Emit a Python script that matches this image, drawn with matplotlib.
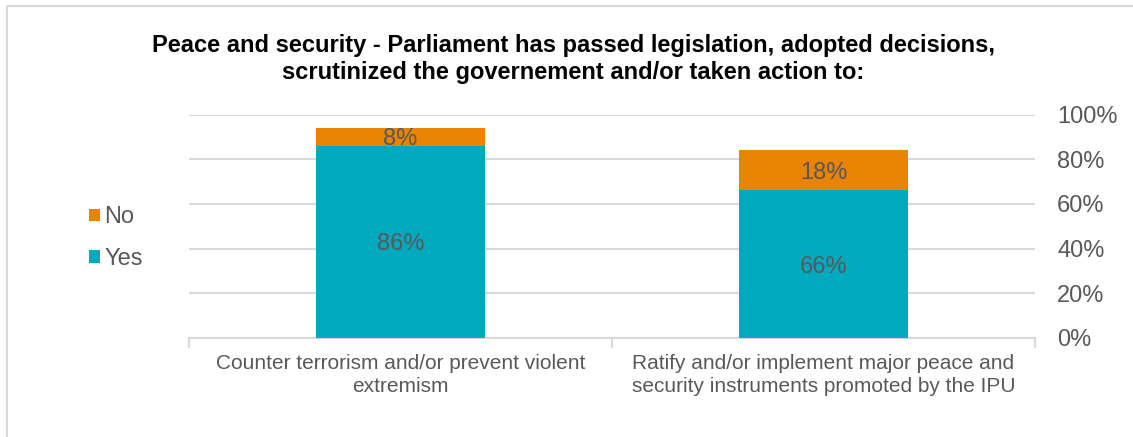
import matplotlib
matplotlib.use("Agg")
import matplotlib.pyplot as plt
import matplotlib.patches as patches
import numpy as np

plt.rcParams['font.family'] = ['Liberation Sans', 'DejaVu Sans']

categories = ["Counter terrorism and/or prevent violent\nextremism",
              "Ratify and/or implement major peace and\nsecurity instruments promoted by the IPU"]
yes_vals = [86, 66]
no_vals = [8, 18]
yticks = [0, 20, 40, 60, 80, 100]

TEAL = '#00A9BE'
ORANGE = '#E98300'
GRID = '#D9D9D9'
TXT = '#595959'

fig = plt.figure(figsize=(11.33, 4.37), dpi=100)
ax = fig.add_axes([189 / 1133, 1 - 338 / 437, 846 / 1133, 223.5 / 437])

# outer frame
fig.patches.append(patches.Rectangle((7 / 1133, -0.1), 1.2, 1 - 6 / 437 + 0.1,
                                     transform=fig.transFigure, fill=False,
                                     edgecolor=GRID, linewidth=1.5))

x = np.arange(len(categories))
w = 0.40
ax.bar(x, yes_vals, w, color=TEAL, label='Yes', zorder=3)
ax.bar(x, no_vals, w, bottom=yes_vals, color=ORANGE, label='No', zorder=3)

for xi, y, n in zip(x, yes_vals, no_vals):
    ax.text(xi, y / 2, f'{y}%', ha='center', va='center_baseline', fontsize=17, color=TXT, zorder=4)
    ax.text(xi, y + n / 2, f'{n}%', ha='center', va='center_baseline', fontsize=17, color=TXT, zorder=4)

ax.set_xlim(-0.5, 1.5)
ax.set_ylim(0, 100)
ax.set_yticks(yticks)
ax.set_yticklabels([f'{t}%' for t in yticks])
ax.yaxis.tick_right()
ax.tick_params(axis='y', length=0, pad=16, labelsize=17, labelcolor=TXT)
ax.yaxis.grid(True, color=GRID, linewidth=1.5, zorder=0)

ax.set_xticks(x)
ax.set_xticklabels(categories, linespacing=1.28)
ax.tick_params(axis='x', which='major', length=0, pad=11.5, labelsize=15, labelcolor=TXT)
ax.set_xticks([-0.5, 0.5, 1.5], minor=True)
ax.tick_params(axis='x', which='minor', length=7, width=1.5, color=GRID, direction='out')

for s in ['top', 'left', 'right']:
    ax.spines[s].set_visible(False)
ax.spines['bottom'].set_color(GRID)
ax.spines['bottom'].set_linewidth(1.5)

handles, labels = ax.get_legend_handles_labels()
fig.legend(handles[::-1], labels[::-1], loc='center left', bbox_to_anchor=(89 / 1133, 1 - 238 / 437),
           frameon=False, fontsize=17, labelcolor=TXT, handlelength=0.45, handleheight=0.45,
           handletextpad=0.2, labelspacing=0.82, borderpad=0, borderaxespad=0)

fig.text(573 / 1133, 1 - 59 / 437,
         "Peace and security - Parliament has passed legislation, adopted decisions,\n"
         "scrutinized the governement and/or taken action to:",
         ha='center', va='center', fontsize=17, fontweight='bold', color='black', linespacing=1.2)

fig.savefig('out.png', dpi=100, facecolor='white')
